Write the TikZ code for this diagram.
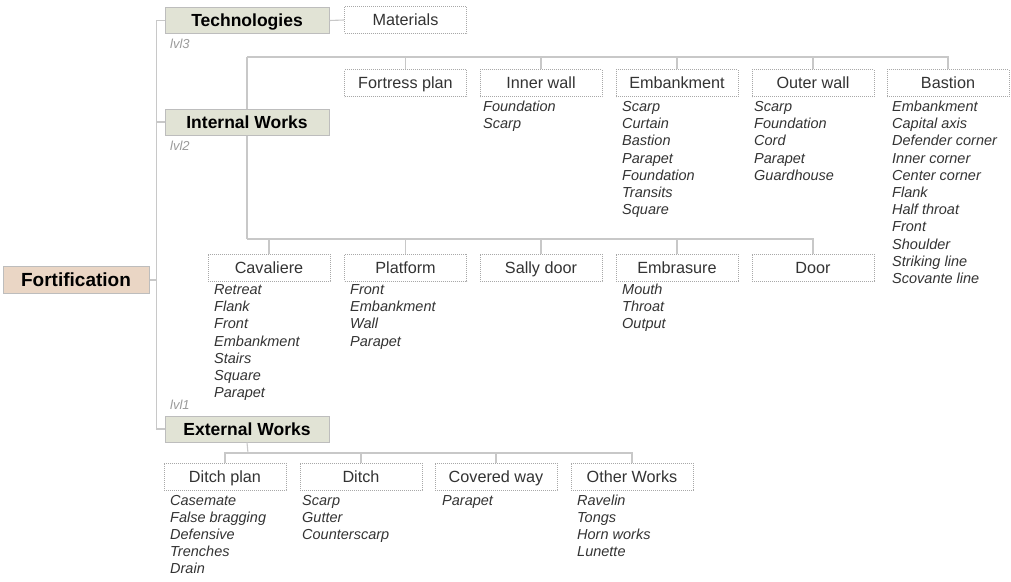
\documentclass[tikz,border=0pt]{standalone}
\usepackage{fontspec}
\setmainfont{Liberation Sans}
\definecolor{linegray}{HTML}{C8C8C8}
\definecolor{boxedge}{HTML}{BDBDBD}
\definecolor{dotgray}{HTML}{A8A8A8}
\definecolor{greenfill}{HTML}{E1E3D5}
\definecolor{tanfill}{HTML}{EAD6C5}
\definecolor{textdark}{HTML}{333333}
\definecolor{lvlgray}{HTML}{9A9A9A}
\tikzset{
 conn/.style={draw=linegray, line width=1.1pt},
 mainbox/.style={draw=boxedge, line width=1pt, fill=greenfill, minimum width=164pt, minimum height=26pt, inner sep=0pt, text height=13pt, text depth=1pt, font=\fontsize{17.5}{20}\selectfont\bfseries, text=black},
 rootbox/.style={mainbox, fill=tanfill, minimum width=146pt, minimum height=27pt, text height=14pt, font=\fontsize{19}{22}\selectfont\bfseries},
 subbox/.style={draw=dotgray, line width=0.9pt, dash pattern=on 0.9pt off 1.1pt, fill=white, minimum width=122pt, minimum height=27pt, inner sep=0pt, text height=12pt, text depth=1pt, font=\fontsize{16.2}{18}\selectfont, text=textdark},
 itemtext/.style={inner sep=0pt, anchor=base west, font=\fontsize{14.5}{17}\selectfont\itshape, text=textdark},
 lvltext/.style={inner sep=0pt, anchor=west, font=\fontsize{13}{15}\selectfont\itshape, text=lvlgray},
}
\newcommand\itemcol[4]{\foreach \t [count=\i] in {#4}{\node[itemtext] (#1\i) at (#2,{#3+17.2*(\i-1)}) {\t};}}
\begin{document}
\begin{tikzpicture}[x=1pt,y=-1pt]
\useasboundingbox (0,0) rectangle (1011,581);
% main boxes
\node[rootbox] (fort) at (76,280) {Fortification};
\node[mainbox] (tech) at (247,20.5) {Technologies};
\node[mainbox] (intw) at (247,122) {Internal Works};
\node[mainbox] (extw) at (247,429) {External Works};
\node[lvltext] (l3) at (170,44) {lvl3};
\node[lvltext] (l2) at (170,146) {lvl2};
\node[lvltext] (l1) at (170,405) {lvl1};
% spine
\coordinate (sp) at (157,280);
\draw[conn] (fort.east) -- (sp);
\draw[conn] (tech.west) -- ++(-8,0) |- (extw.west);
\draw[conn] (intw.west) -- ++(-8,0);
% technologies
\node[subbox] (mat) at (405.5,20) {Materials};
\draw[conn] (tech.east) -- (mat.west);
% internal works top row
\node[subbox] (fp) at (405.5,83) {Fortress plan};
\node[subbox] (iw) at (541,83) {Inner wall};
\node[subbox] (em) at (677,83) {Embankment};
\node[subbox] (ow) at (813,83) {Outer wall};
\node[subbox] (ba) at (948,83) {Bastion};
\coordinate (it) at (247,57);
\coordinate (ib) at (247,239);
\draw[conn] (intw.north) -- (it);
\draw[conn] (intw.south) -- (ib);
\draw[conn] (it) -| (ba.north);
\foreach \n in {fp,iw,em,ow}{\draw[conn] (\n.north) -- (\n.north |- it);}
% internal works bottom row
\node[subbox] (cv) at (269,267.5) {Cavaliere};
\node[subbox] (pl) at (405.5,267.5) {Platform};
\node[subbox] (sd) at (541,267.5) {Sally door};
\node[subbox] (eb) at (677,267.5) {Embrasure};
\node[subbox] (dr) at (813,267.5) {Door};
\draw[conn] (ib) -| (dr.north);
\foreach \n in {cv,pl,sd,eb}{\draw[conn] (\n.north) -- (\n.north |- ib);}
% external works row
\node[subbox] (dp) at (225,476.5) {Ditch plan};
\node[subbox] (di) at (361,476.5) {Ditch};
\node[subbox] (cw) at (496,476.5) {Covered way};
\node[subbox] (ot) at (632,476.5) {Other Works};
\coordinate (eb0) at (248,453);
\draw[conn] (extw.south) -- (eb0);
\draw[conn] (dp.north) |- (eb0) -| (ot.north);
\foreach \n in {di,cw}{\draw[conn] (\n.north) -- (\n.north |- eb0);}
% item lists
\itemcol{iwi}{483}{111.5}{Foundation,Scarp}
\itemcol{emi}{622}{111.5}{Scarp,Curtain,Bastion,Parapet,Foundation,Transits,Square}
\itemcol{owi}{754}{111.5}{Scarp,Foundation,Cord,Parapet,Guardhouse}
\itemcol{bai}{892}{111.5}{Embankment,Capital axis,Defender corner,Inner corner,Center corner,Flank,Half throat,Front,Shoulder,Striking line,Scovante line}
\itemcol{cvi}{214}{294.5}{Retreat,Flank,Front,Embankment,Stairs,Square,Parapet}
\itemcol{pli}{350}{294.5}{Front,Embankment,Wall,Parapet}
\itemcol{ebi}{622}{294.5}{Mouth,Throat,Output}
\itemcol{dpi}{170}{505}{Casemate,False bragging,Defensive,Trenches,Drain}
\itemcol{dii}{302}{505}{Scarp,Gutter,Counterscarp}
\itemcol{cwi}{442}{505}{Parapet}
\itemcol{oti}{577}{505}{Ravelin,Tongs,Horn works,Lunette}
\end{tikzpicture}
\end{document}
